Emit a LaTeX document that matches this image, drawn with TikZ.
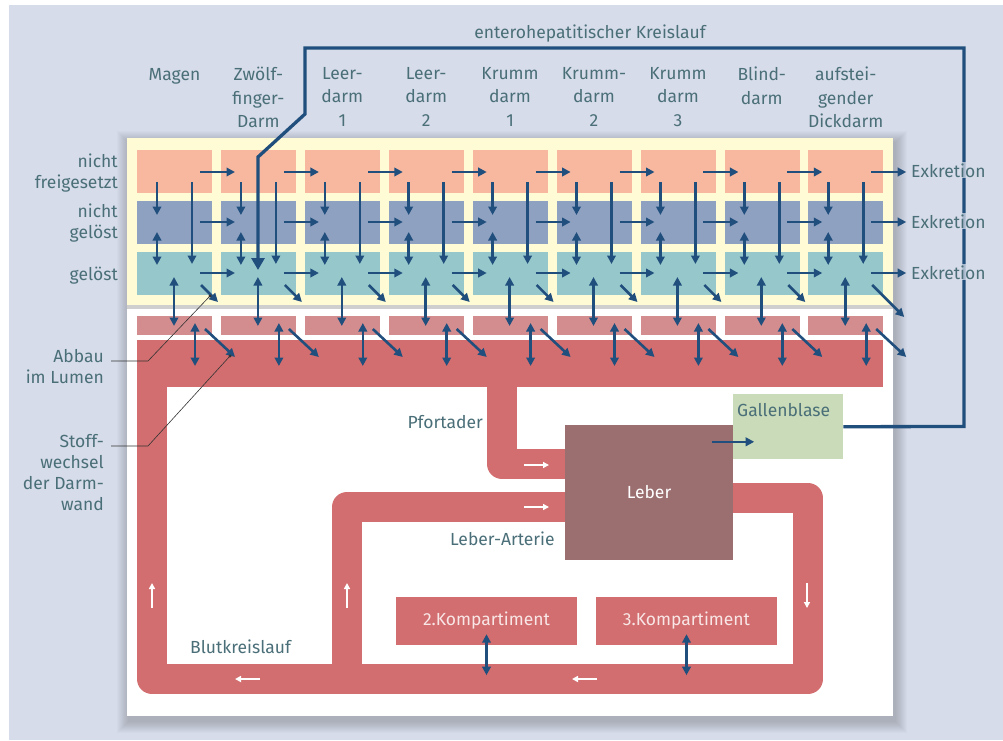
\documentclass[tikz,border=0pt]{standalone}
\usepackage{fontspec}
\setmainfont{Fira Sans}
\usetikzlibrary{arrows.meta,positioning}

\definecolor{bgblue}{RGB}{214,220,233}
\definecolor{panelyellow}{RGB}{255,251,213}
\definecolor{peach}{RGB}{248,184,159}
\definecolor{slate}{RGB}{142,161,193}
\definecolor{teal}{RGB}{150,200,203}
\definecolor{wallpink}{RGB}{212,141,143}
\definecolor{blood}{RGB}{210,110,111}
\definecolor{liver}{RGB}{155,110,112}
\definecolor{bile}{RGB}{201,219,184}
\definecolor{arrowblue}{RGB}{33,79,125}
\definecolor{txtcol}{RGB}{74,111,120}
\definecolor{comptxt}{RGB}{249,230,230}

\tikzset{
  flow/.style={draw=arrowblue, line width=2.6pt, -{Triangle[length=8.5pt,width=8.5pt]}},
  flowboth/.style={draw=arrowblue, line width=2.6pt, {Triangle[length=8.5pt,width=8.5pt]}-{Triangle[length=8.5pt,width=8.5pt]}},
  bloodflow/.style={draw=white, line width=1.6pt, -{Triangle[length=6pt,width=6pt]}},
  vessel/.style={draw=blood, line width=30pt, line join=round},
  lbl/.style={text=txtcol, font=\fontsize{17.5}{21}\selectfont, inner sep=0pt,
    execute at begin node={\rule{0pt}{13pt}}},
  head/.style={lbl, font=\fontsize{17.5}{23.5}\selectfont, align=center, anchor=north},
  cell/.style={inner sep=0pt, minimum width=75pt, minimum height=43pt, anchor=north west},
  organ/.style={inner sep=0pt, font=\fontsize{17.5}{21}\selectfont},
  leader/.style={draw=black!80, line width=0.6pt},
}

\begin{document}
\begin{tikzpicture}[x=1pt,y=-1pt]
  \useasboundingbox (0,0) rectangle (1003,740);
  \fill[white] (0,0) rectangle (1003,740);
  \fill[bgblue] (9,5) rectangle (1003,740);

  % shadow of the panel
  \foreach \k in {1,...,12}
    \fill[black,opacity=0.014] ({129-\k},{143-\k}) rectangle ({895+\k},{721+\k});
  \fill[panelyellow] (127,138) rectangle (893,305);
  \fill[black!19] (127,305) rectangle (893,309);
  \fill[white] (127,309) rectangle (893,716);

  % compartments of the gut
  \foreach \i in {0,...,8} {
    \pgfmathsetmacro\L{137+83.9*\i}
    \node[cell, fill=peach] (nf\i) at (\L,150) {};
    \node[cell, fill=slate] (ng\i) at (\L,201) {};
    \node[cell, fill=teal] (gl\i) at (\L,252) {};
    \node[cell, fill=wallpink, minimum height=19pt] (wa\i) at (\L,316) {};
  }
  \fill[blood] (137,340) rectangle (883,387);

  \node[organ, fill=liver, text=white, minimum width=168pt, minimum height=135pt] (leber) at (649,492.5) {Leber};
  \node[organ, fill=bile, minimum width=110pt, minimum height=65pt, anchor=north west] (gb) at (733,394) {};
  \node[organ, fill=blood, text=comptxt, minimum width=181pt, minimum height=48pt] (komp2) at (486.5,621) {2.Kompartiment};
  \node[organ, fill=blood, text=comptxt, minimum width=181pt, minimum height=48pt] (komp3) at (686.5,621) {3.Kompartiment};

  % blood vessels
  \draw[vessel] (152,380) -- (152,679) -- (808,679) -- (808,498) -- (leber.east |- 0,498);
  \draw[vessel] (347,679) -- (347,507) -- (leber.west |- 0,507);
  \draw[vessel] (502,380) -- (502,464) -- (leber.west |- 0,464);

  \draw[bloodflow] (524,465) -- (549,465);
  \draw[bloodflow] (524,507) -- (549,507);
  \draw[bloodflow] (152,608) -- (152,583);
  \draw[bloodflow] (347,608) -- (347,583);
  \draw[bloodflow] (260,679) -- (235,679);
  \draw[bloodflow] (597,679) -- (572,679);
  \draw[bloodflow] (807,583) -- (807,608);

  % transport between the compartments
  \foreach \i in {0,...,8} {
    \pgfmathsetmacro\L{137+83.9*\i}
    \pgfmathsetmacro\dd{\i==8 ? 32 : 17}
    \foreach \y in {172,222,273}
      \draw[flow] (\L+63,\y) -- (\L+98,\y);
    \draw[flow] (\L+20,182) -- (\L+20,215);
    \draw[flowboth] (\L+20,232) -- (\L+20,265);
    \draw[flow] (\L+55,182) -- (\L+55,264);
    \draw[flowboth] (\L+37,277) -- (\L+37,326);
    \draw[flow] (\L+64,285) -- ++(\dd,\dd);
    \draw[flowboth] (\L+58,323) -- (\L+58,366);
    \draw[flow] (\L+68,329) -- (\L+98,357);
  }
  \draw[flowboth] ([yshift=11pt]komp2.south) -- ([yshift=-30pt]komp2.south);
  \draw[flowboth] ([yshift=11pt]komp3.south) -- ([yshift=-30pt]komp3.south);
  \draw[flow] ([shift={(-21,17)}]leber.north east) -- ([shift={(21,17)}]leber.north east);

  % enterohepatic cycle
  \draw[draw=arrowblue, line width=3.3pt, -{Triangle[length=12pt,width=13pt]}]
    (gb.east) -- (964,426.5) -- (964,48) -- (305,48) -- (305,114) -- (258,157) -- (258,270);
  \node[lbl, anchor=base] (ehk) at (590,38) {enterohepatitischer Kreislauf};

  % labels
  \foreach \name [count=\i from 0] in {Magen, {Zwölf-\\finger-\\Darm}, {Leer-\\darm\\1},
      {Leer-\\darm\\2}, {Krumm\\darm\\1}, {Krumm-\\darm\\2}, {Krumm\\darm\\3},
      {Blind-\\darm}, {aufstei-\\gender\\Dickdarm}}
    \node[head] (h\i) at ({174.5+83.9*\i},67) {\name};

  \node[lbl, align=right, anchor=north east] (rnf) at (118,154) {nicht\\freigesetzt};
  \node[lbl, align=right, anchor=north east] (rng) at (118,204) {nicht\\gelöst};
  \node[lbl, align=right, anchor=north east] (rgl) at (118,267) {gelöst};

  \foreach \y [count=\j] in {177,228,279}
    \node[lbl, anchor=base west, fill=bgblue, fill opacity=0.75, text opacity=1, inner sep=1pt] (ex\j) at (910,\y) {Exkretion};

  \node[lbl, anchor=base east] (pfort) at (483,428) {Pfortader};
  \node[lbl, anchor=base west] (arterie) at (450,545) {Leber-Arterie};
  \node[lbl, anchor=base west] (blut) at (190,653) {Blutkreislauf};
  \node[lbl, anchor=base west] (gbl) at (737,416) {Gallenblase};

  \node[lbl, align=right, anchor=north east] (abbau) at (104,349) {Abbau\\im Lumen};
  \node[lbl, align=right, anchor=north east] (stoff) at (104,434) {Stoff-\\wechsel\\der Darm-\\wand};

  \coordinate (abbaupt) at (210,296);
  \coordinate (stoffpt) at (230,356);
  \draw[leader] (abbau.north east) ++(7,12) -- ++(37,0) -- (abbaupt);
  \draw[leader] (stoff.north east) ++(7,12) -- ++(37,0) -- (stoffpt);
  \fill[black!80] (abbaupt) circle (1.7);
  \fill[black!80] (stoffpt) circle (1.7);
\end{tikzpicture}
\end{document}
